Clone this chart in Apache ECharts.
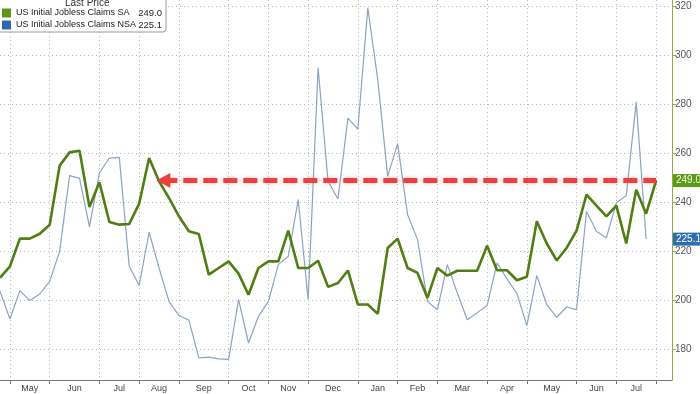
<!DOCTYPE html>
<html><head><meta charset="utf-8">
<script src="https://cdn.jsdelivr.net/npm/echarts@6/dist/echarts.min.js"></script>
<style>html,body{margin:0;padding:0;background:#fff}#c{width:700px;height:394px}</style>
</head><body><div id="c"></div>
<script>
// ---- data ----
const startDate = '2023-04-28';           // first weekly observation (Friday)
const saValues = [209.3,214,225.3,225.3,227.3,231,255.1,260.5,261.2,238.2,248.3,232.1,231,231.3,239.6,258.2,248.7,241.9,234.4,228.3,227.2,210.6,213.3,216,211,202.4,213.3,216,216,228.6,213.3,213.3,216.3,205.6,207.2,212.3,198.4,198.4,194.6,221.5,225.3,213.3,211.3,201.1,213.3,210.2,212.2,212.2,212.2,222.4,212.4,212.4,208.3,209.7,232.4,223.3,216.4,221.5,228.6,243.3,238.8,234.4,238.8,223.3,245.3,235.5,249.0];
const nsaValues = [203.8,192.5,204.1,200,202.7,207.9,220.1,251,249.9,230.1,252.1,258.2,258.5,214,206.2,227.9,213.3,199.7,193.9,192,176.6,176.9,176.2,176,200.4,182.7,193.6,199.7,214.7,218.1,241.2,200.4,295,248.7,241.5,274.5,270,319.5,290.2,250.7,264.1,235.1,224.9,199.7,196.3,214.7,203.1,192.2,195,198,215.4,208.9,202.9,189.8,210.2,198.4,193.2,197.4,196.3,236.4,228.3,225.6,239.9,242.9,281,225.1];
const monthStarts = ['2023-05-05','2023-06-02','2023-07-07','2023-08-04','2023-09-01','2023-10-06','2023-11-03','2023-12-01','2024-01-05','2024-02-02','2024-03-01','2024-04-05','2024-05-03','2024-06-07','2024-07-05','2024-08-02'];
const monthLabels = ['May','Jun','Jul','Aug','Sep','Oct','Nov','Dec','Jan','Feb','Mar','Apr','May','Jun','Jul'];
const yTicks = [180,200,220,240,260,280,300,320];
const arrowFromDate = '2023-08-21';
const saName = 'US Initial Jobless Claims SA';
const nsaName = 'US Initial Jobless Claims NSA';

// ---- build (x = weeks since startDate) ----
const WEEK = 7 * 86400000;
const t0 = Date.parse(startDate + 'T00:00:00Z');
const weekOf = d => (Date.parse(d + 'T00:00:00Z') - t0) / WEEK;
const saData = saValues.map((v, i) => [i, v]);
const nsaData = nsaValues.map((v, i) => [i, v]);
const tickPos = monthStarts.map(weekOf);
const labelPos = monthLabels.map((m, i) => (tickPos[i] + tickPos[i + 1]) / 2);
const saLast = saValues[saValues.length - 1];
const nsaLast = nsaValues[nsaValues.length - 1];
const lastVal = {}; lastVal[saName] = saLast; lastVal[nsaName] = nsaLast;

const chart = echarts.init(document.getElementById('c'), null, {renderer: 'canvas'});
const font = "'Liberation Sans',Arial,sans-serif";

chart.setOption({
  animation: false,
  backgroundColor: '#fff',
  textStyle: {fontFamily: font},
  grid: {left: 0, right: 28, top: 0, bottom: 14, containLabel: false},
  title: {
    text: 'Last Price', left: 60, top: -7, z: 20,
    textStyle: {fontSize: 10, fontWeight: 'normal', color: '#333', fontFamily: font}
  },
  legend: {
    left: -3, top: -8, orient: 'vertical',
    padding: [16, 4, 2, 5], itemGap: 2, itemWidth: 9, itemHeight: 9,
    icon: 'rect', backgroundColor: '#fff', borderColor: '#9a9a9a', borderWidth: 1, borderRadius: 3,
    data: [saName, nsaName],
    formatter: name => `{n|${name}}{v|${lastVal[name].toFixed(1)}}`,
    textStyle: {
      fontFamily: font, fontSize: 9, color: '#222',
      rich: {n: {width: 123, fontSize: 9, fontFamily: font, color: '#222'}, v: {width: 23, align: 'right', fontSize: 9.5, fontFamily: font, color: '#222'}}
    }
  },
  xAxis: {
    type: 'value',
    min: 0, max: 67.6,
    axisLine: {show: true, onZero: false, lineStyle: {color: '#777', width: 1}},
    axisTick: {show: true, customValues: tickPos, length: 4, lineStyle: {color: '#777'}},
    axisLabel: {
      customValues: labelPos, color: '#444', fontSize: 9, margin: 4, fontFamily: font,
      formatter: v => { const i = labelPos.findIndex(p => Math.abs(p - v) < 0.01); return i >= 0 ? monthLabels[i] : ''; }
    },
    splitLine: {show: true, lineStyle: {color: '#b8b8b8', type: [1, 3], width: 1}},
    minorTick: {show: false}
  },
  yAxis: {
    type: 'value', position: 'right',
    min: 167.6, max: 322.7,
    axisLine: {show: true, onZero: false, lineStyle: {color: '#8fae4a', width: 1}},
    axisTick: {show: true, customValues: yTicks, length: 4, lineStyle: {color: '#8fae4a'}},
    minorTick: {show: false},
    axisLabel: {customValues: yTicks, color: '#555', fontSize: 10, margin: 3, fontFamily: font},
    splitLine: {show: true, lineStyle: {color: '#b8b8b8', type: [1, 3], width: 1}}
  },
  series: [
    {
      name: nsaName, type: 'line', data: nsaData, showSymbol: false, symbol: 'none',
      itemStyle: {color: '#2f68a8'}, lineStyle: {color: '#8aa3c6', width: 1.2},
      z: 2, silent: true, clip: false,
      markLine: {
        silent: true, symbol: ['none', 'none'], animation: false,
        data: [{
          yAxis: nsaLast,
          lineStyle: {color: 'transparent', width: 0},
          label: {show: true, position: 'end', distance: 1, formatter: () => nsaLast.toFixed(1),
            color: '#fff', backgroundColor: '#2f6cb0', padding: [2, 2, 1, 3], fontSize: 10, fontFamily: font}
        }]
      }
    },
    {
      name: saName, type: 'line', data: saData, showSymbol: false, symbol: 'none',
      itemStyle: {color: '#5b9516'}, lineStyle: {color: '#4f7e12', width: 2.6},
      z: 3, silent: true, clip: false,
      markLine: {
        silent: true, symbol: ['none', 'none'], animation: false,
        data: [
          [
            {coord: [weekOf(arrowFromDate), saLast], symbol: 'triangle', symbolSize: [15, 14]},
            {coord: [saValues.length - 1, saLast], symbol: 'none'}
          ],
          {
            yAxis: saLast,
            lineStyle: {color: 'transparent', width: 0, type: 'solid', shadowBlur: 0},
            label: {show: true, position: 'end', distance: 1, formatter: () => saLast.toFixed(1),
              color: '#f0ffe0', backgroundColor: '#5e9a18', padding: [2, 2, 1, 3], fontSize: 10, fontFamily: font}
          }
        ],
        lineStyle: {color: '#e8413e', width: 5, type: [14, 6], shadowColor: 'rgba(232,65,62,0.35)', shadowBlur: 4},
        label: {show: false}
      }
    }
  ]
});
</script>
</body></html>
